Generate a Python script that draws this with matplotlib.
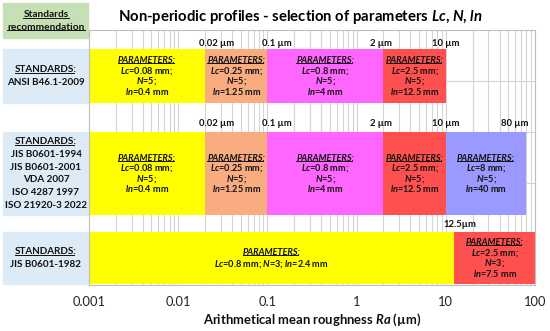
import numpy as np
import matplotlib.pyplot as plt
import matplotlib.transforms as mtransforms
from matplotlib.lines import Line2D
from matplotlib.patches import Rectangle

# --- data ---
ansi_edges = [0.001, 0.02, 0.1, 2, 10]
ansi_lc = [0.08, 0.25, 0.8, 2.5]
ansi_n = [5, 5, 5, 5]
ansi_ln = [0.4, 1.25, 4, 12.5]
ansi_marks = ['0.02 µm', '0.1 µm', '2 µm', '10 µm']

jis_edges = [0.001, 0.02, 0.1, 2, 10, 80]
jis_lc = [0.08, 0.25, 0.8, 2.5, 8]
jis_n = [5, 5, 5, 5, 5]
jis_ln = [0.4, 1.25, 4, 12.5, 40]
jis_marks = ['0.02 µm', '0.1 µm', '2 µm', '10 µm', '80 µm']

old_edges = [0.001, 12.5, 100]
old_lc = [0.8, 2.5]
old_n = [3, 3]
old_ln = [2.4, 7.5]
old_marks = ['12.5µm']

ansi_std = ['ANSI B46.1-2009']
jis_std = ['JIS B0601-1994', 'JIS B0601-2001', 'VDA 2007', 'ISO 4287 1997', 'ISO 21920-3 2022']
old_std = ['JIS B0601-1982']

xticks = [0.001, 0.01, 0.1, 1, 10, 100]
xtick_labels = ['0.001', '0.01', '0.1', '1', '10', '100']

colors = ['#FFFF00', '#F8AC80', '#FF66FF', '#FF5050', '#9999FF']
old_colors = ['#FFFF00', '#FF5050']

# --- style ---
plt.rcParams['font.family'] = 'Lato'
plt.rcParams['mathtext.fontset'] = 'custom'
plt.rcParams['mathtext.it'] = 'Lato:italic:bold'
plt.rcParams['mathtext.rm'] = 'Lato:bold'
plt.rcParams['mathtext.bf'] = 'Lato:bold'
txtc = '#111111'

fig = plt.figure(figsize=(5.5, 3.31), dpi=100)
ax = fig.add_axes([89 / 550, 46 / 331, 446 / 550, 255 / 331])
ax.set_xscale('log')
ax.set_xlim(0.001, 100)
ax.set_ylim(0, 5)
ax.set_yticks([1, 2, 3, 4])
ax.set_yticklabels([])
ax.tick_params(axis='y', length=0)
ax.set_xticks(xticks)
ax.set_xticklabels(xtick_labels, fontsize=9.3, color='#222222')
ax.tick_params(axis='x', which='both', length=0, pad=8)
ax.grid(True, which='both', axis='x', color='#d4d4d4', lw=0.8)
ax.grid(True, which='major', axis='y', color='#d4d4d4', lw=0.8)
ax.set_axisbelow(True)
for s in ax.spines.values():
    s.set_color('#bfbfbf')
    s.set_linewidth(0.8)

# row layout (y centre, height, y of edge labels)
row_y = [4.10, 2.185, 0.53]
row_h = [1.06, 1.63, 1.02]
mark_y = [4.745, 3.157, 1.196]
mark_dx = {'0.02 µm': 8, '0.1 µm': 6.5, '2 µm': -1.5, '10 µm': 0, '80 µm': -8, '12.5µm': 3.6}

underlined = []


def block(x, y, lines, size, spacing, xycoords='data'):
    n = len(lines)
    out = []
    for i, s in enumerate(lines):
        t = ax.annotate(s, (x, y), xycoords=xycoords, xytext=(0, ((n - 1) / 2 - i) * spacing),
                        textcoords='offset points', ha='center', va='center',
                        fontsize=size, fontweight='bold', color=txtc,
                        style='italic' if i == 0 and s.startswith('PARAM') else 'normal',
                        annotation_clip=False)
        out.append(t)
    underlined.append(out[0])
    return out


def param_lines(lc, n, ln):
    return ['PARAMETERS:', '$Lc$=%g mm;' % lc, '$N$=%g;' % n, '$ln$=%g mm' % ln]


def draw_row(k, edges, lc, n, ln, marks, cols):
    left = np.array(edges[:-1])
    right = np.array(edges[1:])
    ax.barh(row_y[k], right - left, left=left, height=row_h[k], color=cols[:len(left)], zorder=2)
    for m, e in zip(marks, edges[1:]):
        ax.annotate(m, (e, mark_y[k]), xytext=(mark_dx[m], 0), textcoords='offset points',
                    ha='center', va='center', fontsize=6.8, fontweight='bold', color=txtc)
    for i in range(len(left)):
        xc = np.sqrt(left[i] * right[i])
        if k == 2 and i == 0:
            block(xc, row_y[k], ['PARAMETERS:', '$Lc$=%g mm; $N$=%g; $ln$=%g mm' % (lc[i], n[i], ln[i])],
                  6.6, 8.2)
        else:
            block(xc, row_y[k], param_lines(lc[i], n[i], ln[i]), 6.6, 7.4)


draw_row(0, ansi_edges, ansi_lc, ansi_n, ansi_ln, ansi_marks, colors)
draw_row(1, jis_edges, jis_lc, jis_n, jis_ln, jis_marks, colors)
draw_row(2, old_edges, old_lc, old_n, old_ln, old_marks, old_colors)

# standards boxes on the left
blend = mtransforms.blended_transform_factory(ax.transAxes, ax.transData)
box_x0 = -86 / 446
for k, std in enumerate([ansi_std, jis_std, old_std]):
    ax.add_patch(Rectangle((box_x0, row_y[k] - row_h[k] / 2), -box_x0 - 0.002, row_h[k],
                           transform=blend, color='#DDEBF7', clip_on=False, zorder=2))
    block(box_x0 / 2, row_y[k], ['STANDARDS:'] + std, 7.1, 9.1 if k == 1 else 8.8, xycoords=blend)

# green header box
ax.add_patch(Rectangle((box_x0, (285 - 38) / 255), -box_x0 - 0.002, 35 / 255,
                       transform=ax.transAxes, color='#C5E0B4', clip_on=False, zorder=2))
block(box_x0 / 2, (285 - 21) / 255, ['Standards', 'recommendation'], 7.3, 8.8, xycoords='axes fraction')
underlined.append(ax.texts[-1])

fig.text(300 / 550, 1 - 17 / 331, 'Non-periodic profiles - selection of parameters $Lc$, $N$, $ln$',
         ha='center', va='center', fontsize=10.7, fontweight='bold', color='#000000')
fig.text(312 / 550, 1 - 320 / 331, 'Arithmetical mean roughness $Ra$ (µm)',
         ha='center', va='center', fontsize=9.4, fontweight='bold', color=txtc)

# underline the headers
fig.canvas.draw()
r = fig.canvas.get_renderer()
for t in underlined:
    bb = t.get_window_extent(r)
    full = t.get_text()
    t.set_text(full.rstrip(':'))
    w = t.get_window_extent(r).width
    t.set_text(full)
    y = bb.y0 + 0.18 * bb.height
    fig.add_artist(Line2D([bb.x0, bb.x0 + w], [y, y], transform=mtransforms.IdentityTransform(),
                          color=t.get_color(), lw=0.7, zorder=5))

plt.savefig('out.png', dpi=100)
